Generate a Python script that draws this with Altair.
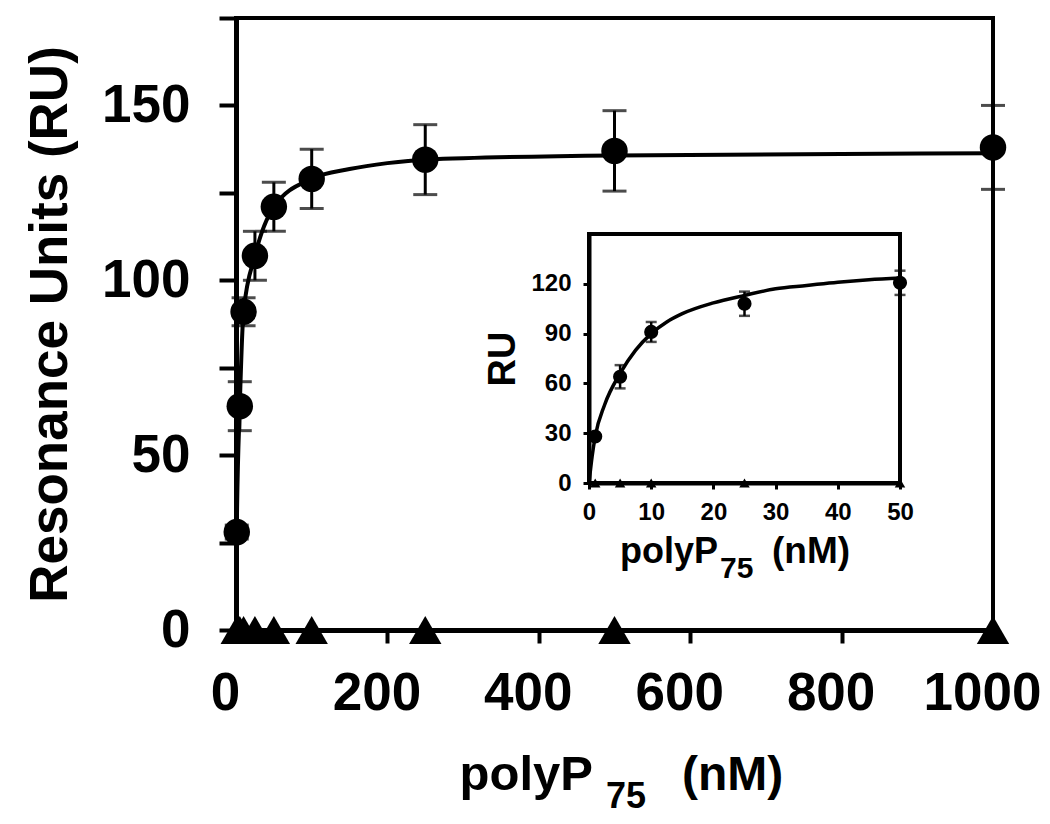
import altair as alt
import pandas as pd

# ---------------- data ----------------
# main panel
main_conc = [1, 5, 10, 25, 50, 100, 250, 500, 1000]
main_ru = [28, 64, 91, 107, 121, 129, 134.5, 137, 138]
main_sd = [2, 7, 4, 7, 7, 8.5, 10, 11.5, 12]
main_ctrl = [0, 0, 0, 0, 0, 0, 0, 0, 0]
main_fit_x = [0, 1, 5, 10, 25, 50, 100, 150, 200, 250, 500, 1000]
main_fit_y = [0, 28, 64, 91, 107, 121, 129, 131.8, 133.5, 134.5, 135.7, 136.3]

# inset panel
inset_conc = [1, 5, 10, 25, 50]
inset_ru = [28, 64, 91, 108, 120.6]
inset_sd = [1.5, 7, 6, 7.3, 7.3]
inset_ctrl = [0, 0, 0, 0, 0]
inset_fit_x = [0, 0.5, 1, 2.5, 5, 7.5, 10, 12.5, 15, 20, 25, 30, 35, 40, 45, 50]
inset_fit_y = [0, 16, 28, 47, 66, 80, 90, 97, 102, 108.5, 113, 117, 119, 121, 122.5, 123.5]

main_x_ticks = [0, 200, 400, 600, 800, 1000]
main_y_ticks = [0, 25, 50, 75, 100, 125, 150, 175]
inset_x_ticks = [0, 10, 20, 30, 40, 50]
inset_y_ticks = [0, 30, 60, 90, 120]
main_x_domain = [0, 1000]
main_y_domain = [0, 175]
inset_x_domain = [0, 50]
inset_y_domain = [0, 150]

FONT = "Liberation Sans"

main_df = pd.DataFrame({"c": main_conc, "ru": main_ru, "sd": main_sd, "ctrl": main_ctrl})
main_df["lo"] = main_df["ru"] - main_df["sd"]
main_df["hi"] = main_df["ru"] + main_df["sd"]
main_fit = pd.DataFrame({"c": main_fit_x, "ru": main_fit_y})

inset_df = pd.DataFrame({"c": inset_conc, "ru": inset_ru, "sd": inset_sd, "ctrl": inset_ctrl})
inset_df["lo"] = inset_df["ru"] - inset_df["sd"]
inset_df["hi"] = inset_df["ru"] + inset_df["sd"]
inset_fit = pd.DataFrame({"c": inset_fit_x, "ru": inset_fit_y})
inset_frame = pd.DataFrame({"x0": [inset_x_domain[0]], "x1": [inset_x_domain[1]],
                            "y0": [inset_y_domain[0]], "y1": [inset_y_domain[1]]})

# ---------------- main scales / axes ----------------
PW, PH = 757, 612
mxs = alt.Scale(domain=main_x_domain, nice=False, zero=False)
mys = alt.Scale(domain=main_y_domain, nice=False, zero=False)
max_x = alt.Axis(values=main_x_ticks, title=None, grid=False, format="d", labelFontSize=53,
                 labelFont=FONT, labelFontWeight="bold", labelColor="black",
                 tickSize=13, tickWidth=4, tickColor="black", domainWidth=5,
                 domainColor="black", labelPadding=24, labelOffset=-11,
                 labelFlush=False, labelOverlap=False, orient="bottom")
max_y = alt.Axis(values=main_y_ticks, title="Resonance Units (RU)", grid=False,
                 labelExpr="datum.value % 50 == 0 ? datum.label : ''",
                 labelFontSize=53, labelFont=FONT, labelFontWeight="bold",
                 labelColor="black", tickSize=17, tickWidth=4, tickColor="black",
                 domainWidth=5, domainColor="black", labelPadding=29,
                 titleFontSize=53, titleFont=FONT, titleFontWeight="bold",
                 titleColor="black", titlePadding=24, labelFlush=False,
                 labelOverlap=False, orient="left")


def mX(field="c"):
    return alt.X(f"{field}:Q", scale=mxs, axis=max_x)


def mY(field):
    return alt.Y(f"{field}:Q", scale=mys, axis=max_y)


m_line = alt.Chart(main_fit).mark_line(color="black", strokeWidth=4,
                                       interpolate="monotone").encode(x=mX(), y=mY("ru"))
m_rule = alt.Chart(main_df).mark_rule(color="black", strokeWidth=3).encode(
    x=mX(), y=mY("lo"), y2="hi:Q")
m_cap_hi = alt.Chart(main_df).mark_tick(color="black", orient="horizontal", size=24,
                                        thickness=3).encode(x=mX(), y=mY("hi"))
m_cap_lo = alt.Chart(main_df).mark_tick(color="black", orient="horizontal", size=24,
                                        thickness=3).encode(x=mX(), y=mY("lo"))
m_pts = alt.Chart(main_df).mark_point(shape="circle", filled=True, color="black",
                                      size=700, opacity=1).encode(x=mX(), y=mY("ru"))
m_tri = alt.Chart(main_df).mark_point(shape="triangle-up", filled=True, color="black",
                                      size=1050, opacity=1).encode(x=mX(), y=mY("ctrl"))


def txt(s, x, y, size, align):
    return alt.Chart(pd.DataFrame({"t": [s]})).mark_text(
        font=FONT, fontWeight="bold", fontSize=size, align=align,
        baseline="alphabetic", color="black").encode(
        text="t:N", x=alt.value(x), y=alt.value(y))


# title of main x axis (with subscript), relative to plot origin
m_t1 = txt("polyP", 357, 772, 49, "right")
m_t2 = txt("75", 370, 790, 36, "left")
m_t3 = txt("(nM)", 446, 772, 48, "left")

main = alt.layer(m_line, m_rule, m_cap_hi, m_cap_lo, m_pts, m_tri, m_t1, m_t2, m_t3)

# ---------------- inset scales / axes ----------------
ixs = alt.Scale(domain=inset_x_domain, range=[353, 664], nice=False, zero=False)
iys = alt.Scale(domain=inset_y_domain, range=[465, 216], nice=False, zero=False)
iax_x = alt.Axis(values=inset_x_ticks, title=None, grid=False, labelFontSize=24,
                 labelFont=FONT, labelFontWeight="bold", labelColor="black",
                 tickSize=6, tickWidth=3, tickColor="black", domainWidth=4,
                 domainColor="black", labelPadding=11, offset=-147, orient="bottom",
                 labelFlush=False, labelOverlap=False)
iax_y = alt.Axis(values=inset_y_ticks, title="RU", grid=False, labelFontSize=24,
                 labelFont=FONT, labelFontWeight="bold", labelColor="black",
                 tickSize=6, tickWidth=3, tickColor="black", domainWidth=4,
                 domainColor="black", labelPadding=12, offset=-353, orient="left",
                 titleFontSize=38, titleFont=FONT, titleFontWeight="bold",
                 titleColor="black", titlePadding=8, labelFlush=False,
                 labelOverlap=False)


def iX(field="c"):
    return alt.X(f"{field}:Q", scale=ixs, axis=iax_x)


def iY(field):
    return alt.Y(f"{field}:Q", scale=iys, axis=iax_y)


i_frame = alt.Chart(inset_frame).mark_rect(fillOpacity=0, stroke="black", strokeWidth=4).encode(
    x=iX("x0"), x2="x1:Q", y=iY("y0"), y2="y1:Q")
i_line = alt.Chart(inset_fit).mark_line(color="black", strokeWidth=3.5,
                                        interpolate="monotone").encode(x=iX(), y=iY("ru"))
i_rule = alt.Chart(inset_df).mark_rule(color="black", strokeWidth=2.5).encode(
    x=iX(), y=iY("lo"), y2="hi:Q")
i_cap_hi = alt.Chart(inset_df).mark_tick(color="black", orient="horizontal", size=11,
                                         thickness=2.5).encode(x=iX(), y=iY("hi"))
i_cap_lo = alt.Chart(inset_df).mark_tick(color="black", orient="horizontal", size=11,
                                         thickness=2.5).encode(x=iX(), y=iY("lo"))
i_pts = alt.Chart(inset_df).mark_point(shape="circle", filled=True, color="black",
                                       size=200, opacity=1).encode(x=iX(), y=iY("ru"))
i_tri = alt.Chart(inset_df).mark_point(shape="triangle-up", filled=True, color="black",
                                       size=110, opacity=1).encode(x=iX(), y=iY("ctrl"))

i_t1 = txt("polyP", 482, 545, 36, "right")
i_t2 = txt("75", 484, 560, 30, "left")
i_t3 = txt("(nM)", 536, 545, 37, "left")

inset = alt.layer(i_frame, i_line, i_rule, i_cap_hi, i_cap_lo, i_pts, i_tri, i_t1, i_t2, i_t3)

chart = alt.layer(main, inset).resolve_scale(
    x="independent", y="independent"
).properties(
    width=PW, height=PH,
    autosize=alt.AutoSizeParams(type="none"),
    padding={"left": 228, "top": 10, "right": 49, "bottom": 186},
    background="white",
).configure_view(stroke="black", strokeWidth=4)

chart.save("out.html", embed_options={"renderer": "svg", "actions": False})
